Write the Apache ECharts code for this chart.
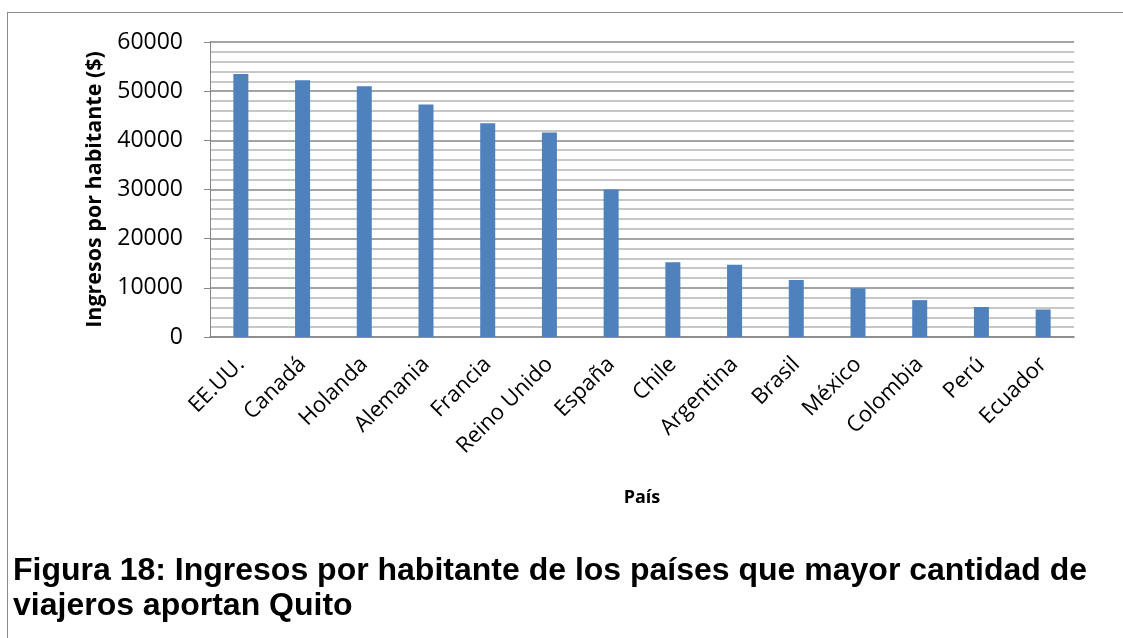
<!DOCTYPE html>
<html>
<head>
<meta charset="utf-8">
<script src="https://cdn.jsdelivr.net/npm/echarts@6/dist/echarts.min.js"></script>
<style>
html,body{margin:0;padding:0;background:#fff;}
#chart{width:1123px;height:638px;}
</style>
</head>
<body>
<div id="chart"></div>
<script>
const categories = ['EE.UU.', 'Canadá', 'Holanda', 'Alemania', 'Francia', 'Reino Unido', 'España', 'Chile', 'Argentina', 'Brasil', 'México', 'Colombia', 'Perú', 'Ecuador'];
const ingresos = [53500, 52200, 51000, 47300, 43500, 41600, 30000, 15200, 14700, 11600, 9900, 7500, 6100, 5600];
const yTicks = [0, 10000, 20000, 30000, 40000, 50000, 60000];

const chart = echarts.init(document.getElementById('chart'));
chart.setOption({
  animation: false,
  backgroundColor: '#ffffff',
  title: {
    text: 'Figura 18: Ingresos por habitante de los países que mayor cantidad de\nviajeros aportan Quito',
    left: 8,
    top: 549,
    textStyle: {
      fontFamily: 'Liberation Sans',
      fontWeight: 'bold',
      fontSize: 32,
      lineHeight: 35,
      color: '#000'
    }
  },
  graphic: [
    { type: 'line', shape: { x1: 7, y1: 12.5, x2: 1123, y2: 12.5 }, style: { stroke: '#8a8a8a', lineWidth: 1 } },
    { type: 'line', shape: { x1: 7.5, y1: 12, x2: 7.5, y2: 638 }, style: { stroke: '#8a8a8a', lineWidth: 1 } }
  ],
  grid: { left: 210, right: 49, top: 42, bottom: 301, containLabel: false },
  xAxis: {
    type: 'category',
    data: categories,
    name: 'País',
    nameLocation: 'middle',
    nameGap: 152,
    nameTextStyle: { fontFamily: 'Open Sans', fontWeight: 'bold', fontSize: 18, color: '#000' },
    axisLine: { lineStyle: { color: '#868686', width: 1.5 } },
    axisTick: { show: false },
    axisLabel: { rotate: 45, interval: 0, margin: 24, fontFamily: 'Open Sans', fontSize: 22, color: '#000' }
  },
  yAxis: {
    type: 'value',
    min: 0,
    max: 60000,
    interval: 10000,
    name: 'Ingresos por habitante ($)',
    nameLocation: 'middle',
    nameGap: 102,
    nameTextStyle: { fontFamily: 'Open Sans', fontWeight: 'bold', fontSize: 21.5, color: '#000' },
    axisLine: { show: true, lineStyle: { color: '#868686', width: 1 } },
    axisTick: { show: true, length: 6, lineStyle: { color: '#868686' } },
    axisLabel: {
      margin: 27,
      fontFamily: 'Open Sans',
      fontSize: 23,
      color: '#000',
      formatter: function (v) { return yTicks.indexOf(v) >= 0 ? String(v) : ''; }
    },
    splitLine: { show: true, lineStyle: { color: '#868686', width: 1.5 } },
    minorTick: { show: false, splitNumber: 5 },
    minorSplitLine: { show: true, lineStyle: { color: '#b5b5b5', width: 1.5 } }
  },
  series: [{
    type: 'bar',
    data: ingresos,
    barWidth: 15,
    itemStyle: { color: '#4f81bd' }
  }]
});
</script>
</body>
</html>
